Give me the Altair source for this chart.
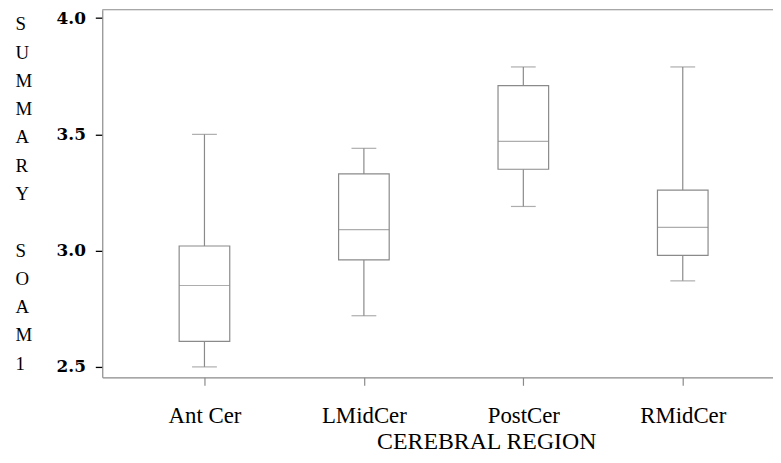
import json
import altair as alt
import pandas as pd

regions = ["Ant Cer", "LMidCer", "PostCer", "RMidCer"]
whisker_low = [2.50, 2.72, 3.19, 2.87]
q1 = [2.61, 2.96, 3.35, 2.98]
median = [2.85, 3.09, 3.47, 3.10]
q3 = [3.02, 3.33, 3.71, 3.26]
whisker_high = [3.50, 3.44, 3.79, 3.79]
y_ticks = [2.5, 3.0, 3.5, 4.0]
y_title = ["S", "U", "M", "M", "A", "R", "Y", "\u200b", "S", "O", "A", "M", "1"]

df = pd.DataFrame({
    "region": regions,
    "idx": list(range(len(regions))),
    "low": whisker_low,
    "q1": q1,
    "med": median,
    "q3": q3,
    "high": whisker_high,
})

GRAY = "#8a8a8a"
SW = 1.2
label_expr = json.dumps(regions) + "[datum.value]"

x = alt.X(
    "idx:Q",
    scale=alt.Scale(domain=[-0.641, 3.566], nice=False, zero=False, padding=0),
    axis=alt.Axis(
        values=list(range(len(regions))),
        labelExpr=label_expr,
        title="CEREBRAL REGION",
        grid=False,
        domainColor=GRAY,
        domainWidth=SW,
        tickColor=GRAY,
        tickWidth=SW,
        tickSize=8,
        labelFont="Liberation Serif",
        labelFontSize=23,
        labelColor="black",
        labelBaseline="alphabetic",
        labelPadding=37,
        labelFlush=False,
        titleFont="Liberation Serif",
        titleFontSize=24,
        titleFontWeight="normal",
        titleColor="black",
        titleBaseline="alphabetic",
        titleAlign="center",
        titleX=387,
        titleY=71.5,
    ),
)

yscale = alt.Scale(domain=[2.455, 4.036], nice=False, zero=False, padding=0)
yaxis = alt.Axis(
    values=y_ticks,
    format=".1f",
    title=y_title,
    grid=False,
    domainColor=GRAY,
    domainWidth=SW,
    tickColor="black",
    tickWidth=1.3,
    tickSize=7,
    labelFont="DejaVu Serif",
    labelFontSize=17,
    labelFontWeight="bold",
    labelColor="black",
    labelPadding=10,
    titleFont="Liberation Serif",
    titleFontSize=19,
    titleFontWeight="normal",
    titleColor="black",
    titleAngle=0,
    titleAlign="left",
    titleBaseline="alphabetic",
    titleLineHeight=28.5,
    titleX=-88,
    titleY=20.3,
)

base = alt.Chart(df)

lower_whisker = base.mark_rule(color=GRAY, strokeWidth=SW).encode(
    x=x, y=alt.Y("low:Q", scale=yscale, axis=yaxis), y2="q1:Q"
)
upper_whisker = base.mark_rule(color=GRAY, strokeWidth=SW).encode(
    x="idx:Q", y="q3:Q", y2="high:Q"
)
box = base.mark_bar(size=51, fill="white", stroke=GRAY, strokeWidth=SW).encode(
    x="idx:Q", y="q1:Q", y2="q3:Q"
)
med = base.mark_tick(orient="horizontal", size=51, thickness=SW, color=GRAY).encode(
    x="idx:Q", y="med:Q"
)
cap_low = base.mark_tick(orient="horizontal", size=25, thickness=SW, color=GRAY).encode(
    x="idx:Q", y="low:Q"
)
cap_high = base.mark_tick(orient="horizontal", size=25, thickness=SW, color=GRAY).encode(
    x="idx:Q", y="high:Q"
)
top_line = alt.Chart(pd.DataFrame({"a": [0]})).mark_rule(color=GRAY, strokeWidth=SW).encode(
    x=alt.value(0), x2=alt.value(676), y=alt.value(0)
)

chart = alt.layer(
    lower_whisker, upper_whisker, box, med, cap_low, cap_high, top_line
).properties(
    width=676,
    height=370.5,
    autosize=alt.AutoSizeParams(type="none"),
    padding={"left": 95, "top": 0, "right": 0, "bottom": 76.5},
).configure_view(stroke=None)

chart.save("out.html", embed_options={"renderer": "svg", "actions": False})
